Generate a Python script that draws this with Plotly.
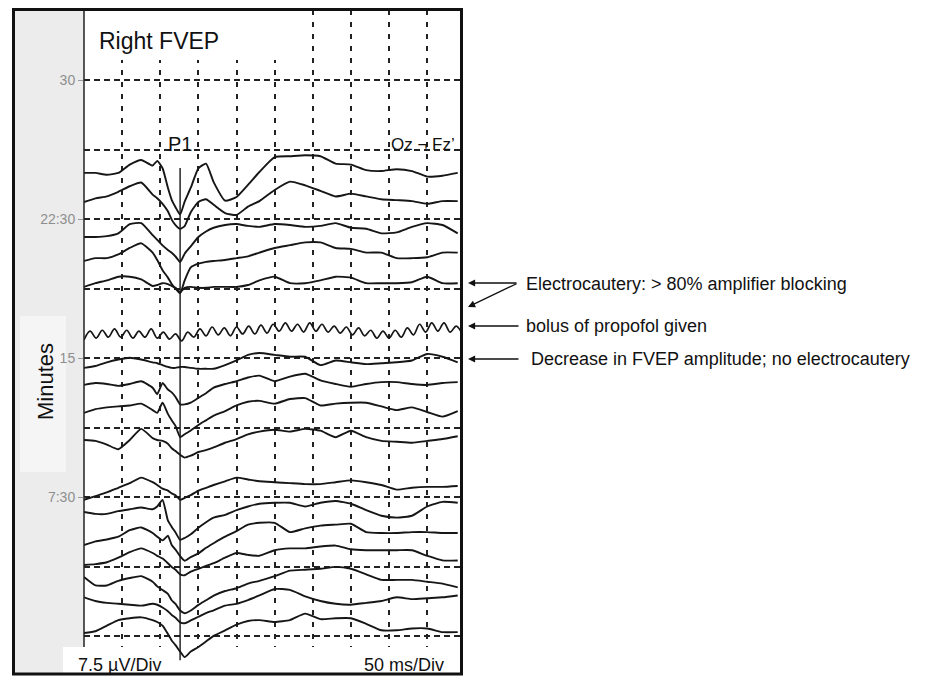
import plotly.graph_objects as go

# ---------------- data ----------------
# sample latencies (ms) shared by the averaged traces
T_MS = [0, 15, 30, 45, 60, 75, 90, 96, 103, 110, 115, 120, 126, 132, 140, 150, 160, 170,
        185, 200, 215, 230, 250, 270, 290, 310, 330, 350, 370, 390, 410, 430, 450, 470, 490]

# deflections in microvolts (positive = up) for each sweep, top to bottom
UV_25_0 = [0, 0, -0.2, 0, 0.9, 1.4, 0.8, 1.3, 0.5, -1.6, -2.9, -3.7, -4.5, -3.1, -1.6, 0.5, 1.0, -1.0,
           -3.0, -2.6, -1.3, 0.1, 1.7, 1.8, 1.9, 1.8, 1.0, 0.9, 0.3, 0.2, 0.4, 0.2, -0.4, -0.3, 0]
UV_23_4 = [0, 0.4, 0.6, 1.1, 1.7, 2.1, 0.8, 0.4, -0.2, -1.0, -1.9, -2.5, -2.9, -2.6, -1.1, 0, 0.3, -0.3,
           -1.2, -1.4, -0.5, 0.1, 1.3, 2.2, 1.8, 1.2, 0.6, 0.9, 0.6, 0.3, 0.2, 0.1, -0.2, 0.1, 0.1]
UV_21_5 = [0, 0, 0.1, 0.4, 1.4, 1.5, 0.2, -0.3, -0.9, -1.4, -1.7, -2.1, -2.7, -1.8, -1.0, 0, 0.6, 1.0,
           1.3, 1.4, 1.2, 1.1, 1.4, 1.3, 1.1, 1.2, 1.5, 1.0, 0.9, 0.4, 0.5, 1.1, 1.5, 1.3, 0.4]
UV_20_3 = [-0.1, 0.2, 0.2, 0.6, 1.3, 1.8, 0.8, 0, -1.1, -1.9, -2.6, -3.1, -3.6, -2.2, -0.8, -0.4, -0.2, -0.1,
           0, 0.2, 0.4, 0.8, 1.3, 1.6, 1.9, 1.9, 1.3, 1.2, 0.8, 0.8, 0.2, 0.2, 0.3, 0.8, 0.8]
UV_18_9 = [-0.2, 0.2, 0.5, 0.9, 0.9, 0.6, -0.1, 0, 0.2, 0.1, -0.1, -0.3, -0.8, -0.3, -0.2, -0.3, -0.3, -0.2,
           -0.2, -0.2, 0, 0.5, 0.9, 0.2, 0.2, 0.5, 0.9, 0.8, 0.2, 0.2, 0.2, 0.3, 0.9, 0.2, 0.2]
UV_14_6 = [-0.3, -0.1, 0.3, 0.6, 0.8, 0.6, 0.3, 0.2, 0, -0.2, -0.3, -0.3, -0.2, -0.2, -0.3, -0.4, -0.4, -0.4,
           0, 0.5, 1.1, 1.3, 1.1, 0.9, 0.9, 0, 0.5, 0.3, 0.1, 0.2, 0.3, 0.5, 1.2, 0.9, 0.3]
UV_13_6 = [0, 0.2, 0.1, -0.1, 0.1, 0.4, -0.3, -1.0, 0.2, -0.5, -0.8, -1.3, -2.1, -2.1, -1.9, -1.4, -0.9, -0.3,
           0.1, 0.4, 0.8, 1.0, 0.4, 0.9, 1.2, 0.5, 0.1, -0.2, 0.1, 0.3, 0.3, 0.1, 0, 0.2, 0.3]
UV_12_1 = [-0.2, 0.2, 0.4, 0.5, 0.6, 0.8, 0.1, -0.2, 0.9, -0.3, -1.0, -1.6, -2.8, -2.5, -2.1, -1.5, -1.0, -0.5,
           0, 0.6, 1.0, 1.1, 0.8, 1.3, 1.4, 0.6, 0.8, 0.9, 0.9, 0.5, 0.1, 0.4, -0.1, -0.6, 0]
UV_10_6 = [0, -0.1, -0.5, -1.0, 0, 1.2, 0.2, 0, -0.1, -0.4, -0.9, -1.2, -1.6, -1.9, -1.7, -1.3, -1.1, -0.8,
           -0.3, 0.1, 0.6, 0.9, 1.1, 0.9, 1.2, 1.0, 0.3, 1.0, 0.3, -0.1, -0.2, -0.3, -0.1, 0.1, 0.4]
UV_7_5 = [-0.2, 0.2, 0.6, 1.1, 1.6, 2.2, 1.7, 1.4, 1.0, 0.8, 0.5, 0.3, -0.2, 0, 0.3, 0.8, 1.1, 1.4,
          1.8, 2.2, 2.0, 1.8, 1.7, 1.6, 1.5, 1.5, 1.7, 1.9, 1.7, 1.4, 0.9, 1.1, 1.2, 1.2, 1.3]
UV_6_7 = [0, -0.2, -0.2, 0.1, 0.3, 0.5, 0.3, 0.6, 1.3, -0.9, -1.6, -2.2, -3.0, -2.8, -2.4, -1.7, -1.1, -0.6,
          -0.3, 0.2, 0.6, 0.9, 1.0, 1.0, 0.6, 1.0, 1.2, 0.9, 0.2, -0.4, -0.6, -0.4, 0.6, 1.1, 1.0]
UV_4_9 = [0, 0.4, 0.6, 0.9, 1.6, 1.9, 1.3, 0.9, 0.5, 1.0, 0, -0.5, -1.2, -1.7, -1.3, -0.9, -0.3, 0.2,
          0.9, 1.5, 2.2, 2.4, 2.4, 1.4, 1.8, 2.1, 2.2, 2.3, 1.4, 1.3, 1.3, 1.4, 1.4, 1.3, 1.3]
UV_3_8 = [0.1, 0.2, 0.4, 0.9, 1.5, 1.9, 1.4, 1.1, 0.8, 0.3, -0.1, -0.4, -0.9, -1.0, -0.6, -0.3, 0, 0.3,
          0.9, 1.4, 1.2, 1.1, 1.7, 1.9, 1.9, 2.1, 2.2, 1.8, 1.7, 1.7, 1.7, 1.7, 1.1, 0.6, 0.6]
UV_3_1 = [0.1, -0.8, -0.8, -0.3, 0, 0.2, -0.4, -0.9, -1.3, -1.7, -2.4, -2.8, -3.5, -3.8, -3.5, -2.9, -2.4, -1.9,
          -1.4, -1.1, -0.6, -0.3, 0.2, 0.8, 0.9, 1.0, 1.2, 1.0, 0.4, -0.2, -0.2, -0.2, -0.4, -0.6, -1.0]
UV_1_9 = [0.3, -0.1, -0.3, -0.4, -0.5, -0.6, -0.4, -0.5, -0.8, -1.2, -1.6, -1.9, -2.4, -2.5, -2.2, -1.8, -1.4, -1.1,
          -0.6, -0.4, 0, 0.5, 1.2, 1.1, 0.4, -0.1, -0.4, -0.5, -0.3, -0.1, 0.3, 0.1, 0.2, 0.3, 0.5]
UV_0_2 = [0, 0.2, 0.8, 1.4, 1.6, 1.7, 1.4, 1.2, 0.8, -0.1, -0.8, -1.3, -2.0, -2.6, -2.0, -1.5, -0.9, -0.3,
          0.3, 0.9, 1.3, 1.4, 1.2, 1.4, 2.1, 1.5, 1.6, 1.6, 1.0, 0.3, 0.3, 0.5, 0.5, 0.1, 0.1]

# sweep recorded right after the propofol bolus (finer sampling)
T_NOISE_MS = list(range(0, 497, 8))
UV_16_4 = [-0.75, 0.2, -0.55, 0.3, -0.45, 0.45, -0.45, 0.3, -0.55, 0.2, -0.45, 0.45, -0.55, 0.1, -0.65,
           -0.1, -0.85, 0.1, -0.45, 0.45, -0.3, 0.65, -0.2, 0.55, -0.3, 0.65, -0.1, 0.75, -0.1, 0.85, 0,
           0.95, 0.2, 1.1, 0.2, 0.95, 0.1, 1.1, 0.2, 0.95, 0.1, 0.75, 0, 0.65, -0.2, 0.55, -0.3, 0.3,
           -0.55, 0.2, -0.55, 0.3, -0.45, 0.55, -0.2, 0.95, 0.1, 1.1, 0.2, 1.1, 0.1, 0.75, -0.1]

# time (minutes) at which each sweep is plotted
BASE_MIN = [24.99, 23.42, 21.53, 20.29, 18.94, 14.62, 13.55, 12.14, 10.58,
            7.45, 6.69, 4.91, 3.78, 3.13, 1.94, 0.16]
SWEEPS = [UV_25_0, UV_23_4, UV_21_5, UV_20_3, UV_18_9, UV_14_6, UV_13_6, UV_12_1, UV_10_6,
          UV_7_5, UV_6_7, UV_4_9, UV_3_8, UV_3_1, UV_1_9, UV_0_2]
NOISE_BASE_MIN = 16.35

P1_MS = [126, 126]
P1_SPAN_MIN = [-1.3, 25.26]

Y_TICKS = [7.5, 15, 22.5, 30]
Y_TICK_TEXT = ["7:30", "15", "22:30", "30"]
Y_MINOR = [0, 3.75, 11.25, 18.75, 26.25]
X_GRID = [50, 100, 150, 200, 250, 300, 350, 400, 450]
X_RANGE = [0, 493]
Y_RANGE = [-1.94, 33.78]

UV_PER_DIV = 7.5
MIN_PER_DIV = 3.75
SCALE = MIN_PER_DIV / UV_PER_DIV

# ---------------- figure ----------------
W, H = 930, 684
ML, MR, MT, MB = 84, 470, 10, 12
PW, PH = W - ML - MR, H - MT - MB


def px(x):
    return (x - ML) / PW


def py(y):
    return (H - MB - y) / PH


def dx(x):  # pixel -> data x
    return X_RANGE[0] + px(x) * (X_RANGE[1] - X_RANGE[0])


def dy(y):  # pixel -> data y
    return Y_RANGE[0] + py(y) * (Y_RANGE[1] - Y_RANGE[0])


FONT = "Liberation Sans, Arial, sans-serif"
LINE = "#161616"

fig = go.Figure()

for base, vals in zip(BASE_MIN, SWEEPS):
    fig.add_trace(go.Scatter(x=T_MS, y=[base + v * SCALE for v in vals], mode="lines",
                             line=dict(color=LINE, width=1.9, shape="spline", smoothing=0.5),
                             hoverinfo="skip", showlegend=False))

fig.add_trace(go.Scatter(x=T_NOISE_MS, y=[NOISE_BASE_MIN + v * SCALE for v in UV_16_4], mode="lines",
                         line=dict(color=LINE, width=1.7, shape="spline", smoothing=1.0),
                         hoverinfo="skip", showlegend=False))

fig.add_trace(go.Scatter(x=P1_MS, y=P1_SPAN_MIN, mode="lines",
                         line=dict(color=LINE, width=1.4), hoverinfo="skip", showlegend=False))

shapes = [
    # grey left panel
    dict(type="rect", xref="paper", yref="paper", x0=px(15), x1=px(84), y0=py(674), y1=py(10),
         fillcolor="#ececec", line=dict(width=0), layer="below"),
    # lighter box behind "Minutes"
    dict(type="rect", xref="paper", yref="paper", x0=px(20), x1=px(66), y0=py(472), y1=py(316),
         fillcolor="#f5f5f5", line=dict(width=0), layer="below"),
    # white part of the label strip over the grey panel
    dict(type="rect", xref="paper", yref="paper", x0=px(63), x1=px(84), y0=py(674), y1=py(647),
         fillcolor="white", line=dict(width=0), layer="below"),
    # white title area hiding the grid
    dict(type="rect", xref="x", yref="y", x0=X_RANGE[0], x1=dx(292), y0=dy(60), y1=Y_RANGE[1],
         fillcolor="white", line=dict(width=0), layer="between"),
    # white scale-label strip at the bottom
    dict(type="rect", xref="x", yref="y", x0=X_RANGE[0], x1=X_RANGE[1], y0=Y_RANGE[0], y1=dy(647),
         fillcolor="white", line=dict(width=0), layer="between"),
    # left axis line
    dict(type="line", xref="paper", yref="paper", x0=0, x1=0, y0=py(647), y1=1,
         line=dict(color="#222", width=1.5), layer="above"),
    # outer frame
    dict(type="rect", xref="paper", yref="paper", x0=px(13.5), x1=px(461.5), y0=py(674), y1=py(9.5),
         line=dict(color="#111", width=3), layer="above"),
]

ann = [
    dict(text="Right FVEP", x=px(97), y=py(41), xanchor="left", yanchor="middle",
         font=dict(size=23, color="#111")),
    dict(text="P1", x=px(180), y=py(144), xanchor="center", yanchor="middle",
         font=dict(size=20, color="#111")),
    dict(text="Oz ¬ Fz’", x=px(389), y=py(144), xanchor="left", yanchor="middle",
         font=dict(size=17, color="#111")),
    dict(text="Minutes", x=px(45), y=py(382), xanchor="center", yanchor="middle", textangle=-90,
         font=dict(size=22, color="#111")),
    dict(text="7.5 µV/Div", x=px(76), y=py(665), xanchor="left", yanchor="middle",
         font=dict(size=18, color="#111")),
    dict(text="50 ms/Div", x=px(446), y=py(665), xanchor="right", yanchor="middle",
         font=dict(size=18, color="#111")),
    dict(text="Electrocautery: > 80% amplifier blocking", x=px(524), y=py(284), xanchor="left",
         yanchor="middle", font=dict(size=18, color="#111")),
    dict(text="bolus of propofol given", x=px(524), y=py(326), xanchor="left",
         yanchor="middle", font=dict(size=18, color="#111")),
    dict(text="Decrease in FVEP amplitude; no electrocautery", x=px(529), y=py(359), xanchor="left",
         yanchor="middle", font=dict(size=18, color="#111")),
]
for tip_y, ax, ay in [(283, 50, 0), (307, 50, -24), (326, 52, 0), (359, 52, 0)]:
    ann.append(dict(text="", x=px(468), y=py(tip_y), ax=ax, ay=ay, showarrow=True,
                    arrowhead=2, arrowsize=1.1, arrowwidth=1.3, arrowcolor="#111"))
for a in ann:
    a.setdefault("xref", "paper")
    a.setdefault("yref", "paper")
    a.setdefault("showarrow", False)

fig.update_layout(
    width=W, height=H,
    margin=dict(l=ML, r=MR, t=MT, b=MB, pad=0),
    paper_bgcolor="white", plot_bgcolor="white",
    font=dict(family=FONT, color="#111"),
    showlegend=False,
    shapes=shapes,
    annotations=ann,
    xaxis=dict(range=X_RANGE, tickvals=X_GRID, showticklabels=False, ticks="",
               showgrid=True, gridcolor="#222", gridwidth=1.6, griddash="5px,7px",
               zeroline=False, showline=False, fixedrange=True),
    yaxis=dict(range=Y_RANGE, tickvals=Y_TICKS, ticktext=Y_TICK_TEXT,
               ticks="outside", ticklen=5, tickcolor="#9a9a9a", tickwidth=1,
               tickfont=dict(size=14, color="#8e8e8e", family=FONT),
               showgrid=True, gridcolor="#222", gridwidth=1.6, griddash="6px,4px",
               minor=dict(tickvals=Y_MINOR, showgrid=True, gridcolor="#222", gridwidth=1.6,
                          griddash="6px,4px", ticks=""),
               zeroline=False, showline=False, fixedrange=True),
)

fig.write_html("out.html")
